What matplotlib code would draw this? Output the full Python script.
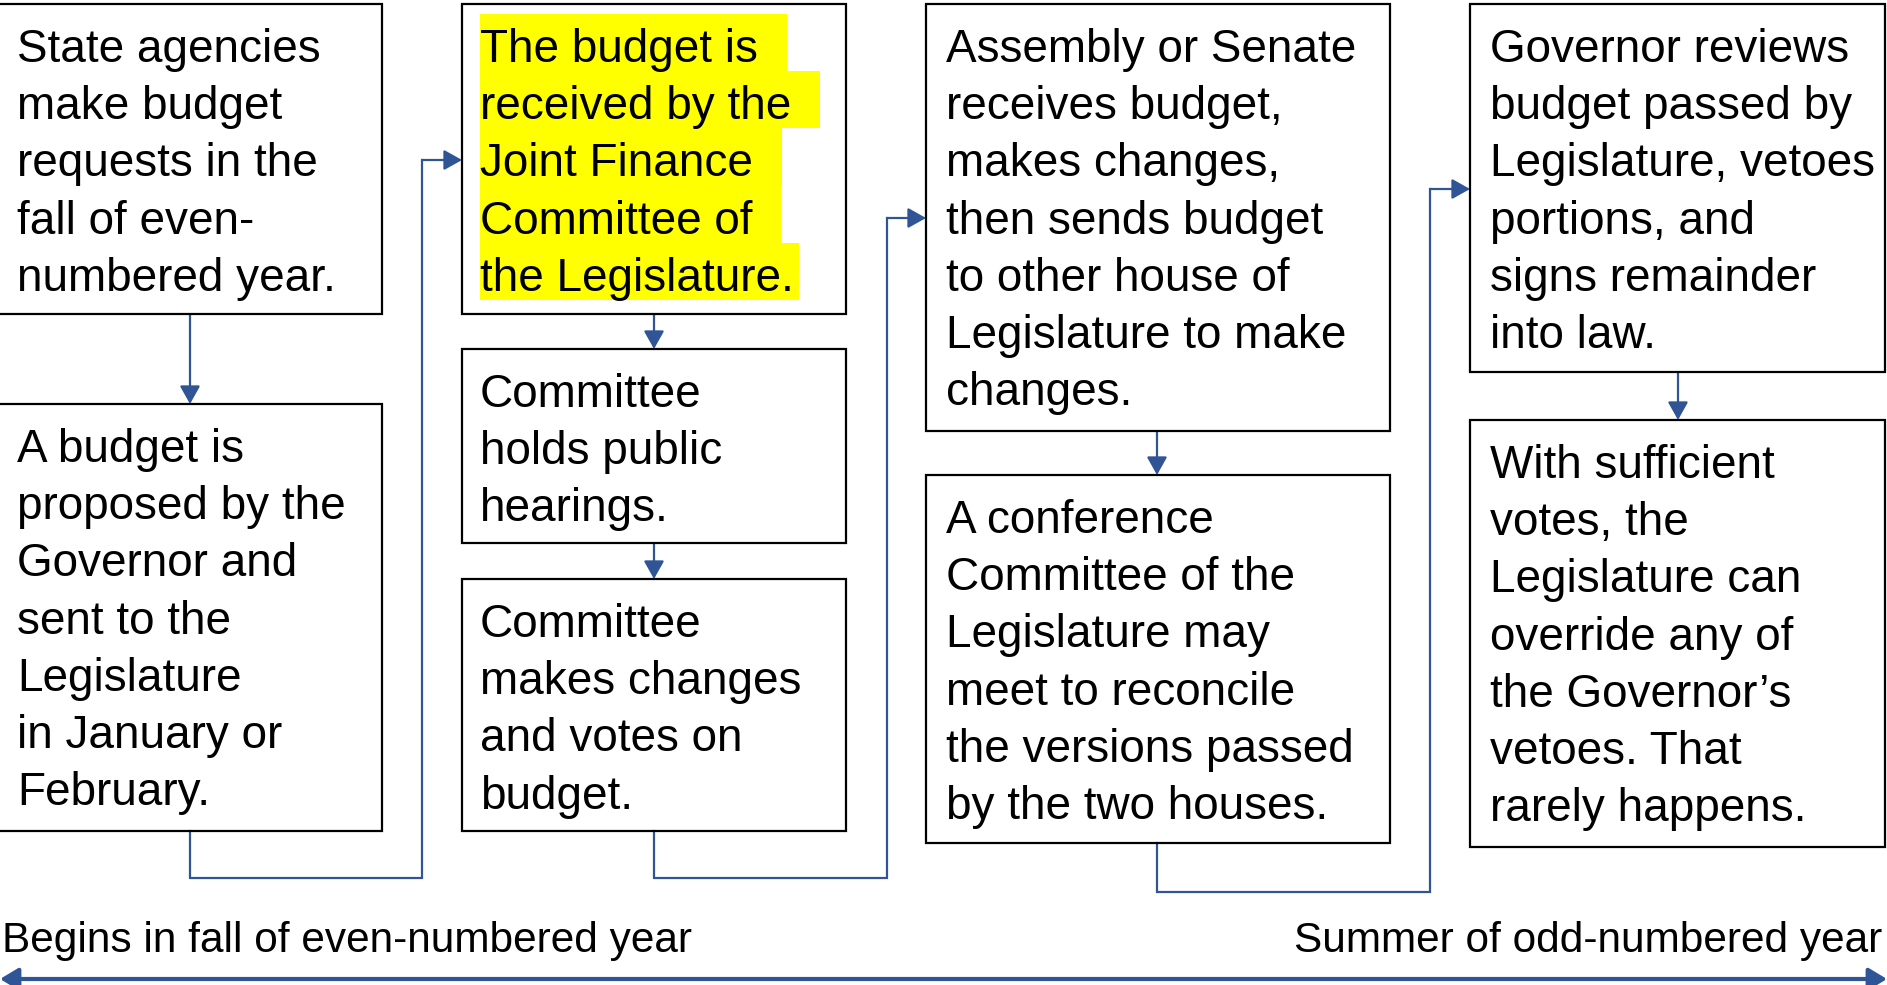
import matplotlib
matplotlib.use("Agg")
import matplotlib.pyplot as plt
from matplotlib.patches import Rectangle

# -- canvas (pixel coordinates, y grows downward) ---------------------------
W, H = 1887, 985
BLUE = "#2F5597"
FONT = "Liberation Sans"
FS_BOX = 33
FS_TIME = 30.5
PITCH = 57.2          # line spacing in px
FIRST = 58            # first baseline below box top

# -- step texts (one string per line) ---------------------------------------
step_texts = [
    ["State agencies", "make budget", "requests in the", "fall of even-", "numbered year."],
    ["A budget is", "proposed by the", "Governor and", "sent to the", "Legislature",
     "in January or", "February."],
    ["The budget is ", "received by the ", "Joint Finance ", "Committee of ",
     "the Legislature."],
    ["Committee", "holds public", "hearings."],
    ["Committee", "makes changes", "and votes on", "budget."],
    ["Assembly or Senate", "receives budget,", "makes changes,", "then sends budget",
     "to other house of", "Legislature to make", "changes."],
    ["A conference", "Committee of the", "Legislature may", "meet to reconcile",
     "the versions passed", "by the two houses."],
    ["Governor reviews", "budget passed by", "Legislature, vetoes", "portions, and",
     "signs remainder", "into law."],
    ["With sufficient", "votes, the", "Legislature can", "override any of",
     "the Governor\u2019s", "vetoes. That", "rarely happens."],
]
highlighted = [False, False, True, False, False, False, False, False, False]
timeline_labels = ["Begins in fall of even-numbered year", "Summer of odd-numbered year"]

# box geometry: x0, x1, y0, y1, text x
boxes = [
    (-2, 382, 4, 314, 17),
    (-2, 382, 404, 831, 17),
    (462, 846, 4, 314, 480),
    (462, 846, 349, 543, 480),
    (462, 846, 579, 831, 480),
    (926, 1390, 4, 431, 946),
    (926, 1390, 475, 843, 946),
    (1470, 1885, 4, 372, 1490),
    (1470, 1885, 420, 847, 1490),
]

# connector polylines, last segment carries the arrow head
connectors = [
    [(190, 314), (190, 404)],
    [(190, 831), (190, 878), (422, 878), (422, 160), (462, 160)],
    [(654, 314), (654, 349)],
    [(654, 543), (654, 579)],
    [(654, 831), (654, 878), (887, 878), (887, 218), (926, 218)],
    [(1157, 431), (1157, 475)],
    [(1157, 843), (1157, 892), (1430, 892), (1430, 189), (1470, 189)],
    [(1678, 372), (1678, 420)],
]

fig = plt.figure(figsize=(W / 100, H / 100), dpi=100)
ax = fig.add_axes([0, 0, 1, 1])
ax.set_xlim(0, W)
ax.set_ylim(H, 0)
ax.axis("off")

# --- boxes and text ---
hl_texts = []
for (x0, x1, y0, y1, tx), lines, hl in zip(boxes, step_texts, highlighted):
    ax.add_patch(Rectangle((x0, y0), x1 - x0, y1 - y0, fill=False,
                           edgecolor="black", lw=1.6, zorder=3))
    for i, line in enumerate(lines):
        yb = y0 + FIRST + i * PITCH
        t = ax.text(tx, yb, line, fontsize=FS_BOX, family=FONT,
                    ha="left", va="baseline", color="black", zorder=4)
        if hl:
            hl_texts.append((t, yb, line.endswith(" ")))

# --- connectors ---
for pts in connectors:
    xs = [p[0] for p in pts[:-1]]
    ys = [p[1] for p in pts[:-1]]
    if len(pts) > 2:
        ax.plot(xs, ys, color=BLUE, lw=1.6, solid_joinstyle="miter", zorder=2)
    ax.annotate("", xy=pts[-1], xytext=pts[-2],
                arrowprops=dict(arrowstyle="-|>,head_length=0.5,head_width=0.28",
                                color=BLUE, lw=1.6, shrinkA=0, shrinkB=0,
                                mutation_scale=22), zorder=2)

# --- timeline ---
ax.annotate("", xy=(W, 979), xytext=(0, 979),
            arrowprops=dict(arrowstyle="<|-|>,head_length=0.5,head_width=0.3",
                            color=BLUE, lw=3, shrinkA=0, shrinkB=0, mutation_scale=22))
ax.text(2, 952, timeline_labels[0], fontsize=FS_TIME, family=FONT,
        ha="left", va="baseline")
ax.text(1882, 952, timeline_labels[1], fontsize=FS_TIME, family=FONT,
        ha="right", va="baseline")

# --- yellow highlight behind the highlighted box text ---
fig.canvas.draw()
r = fig.canvas.get_renderer()
inv = ax.transData.inverted()
for t, yb, trailing in hl_texts:
    bb = t.get_window_extent(r)
    x0 = inv.transform((bb.x0, bb.y0))[0]
    x1 = inv.transform((bb.x1, bb.y0))[0] + (16 if trailing else 5)
    ax.add_patch(Rectangle((x0, yb - 48), x1 - x0, PITCH, facecolor="#FFFF00",
                           edgecolor="none", zorder=1))

fig.savefig("out.png", dpi=100)
